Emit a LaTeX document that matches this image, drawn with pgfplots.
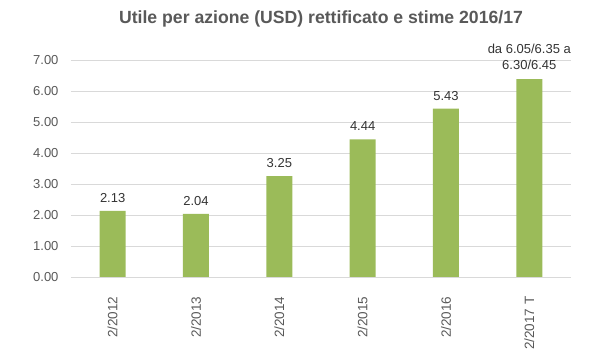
\documentclass[border=0pt]{standalone}
\usepackage{pgfplots}
\pgfplotsset{compat=1.18}
\usepackage{fontspec}
\setmainfont{Liberation Sans}
\definecolor{bargreen}{HTML}{9BBB59}
\definecolor{txtgray}{HTML}{595959}
\definecolor{gridgray}{HTML}{D9D9D9}
\begin{document}
\begin{tikzpicture}[x=1pt,y=1pt]
\useasboundingbox (0,0) rectangle (598,363);
\begin{axis}[
  at={(71pt,86pt)}, anchor=south west,
  scale only axis, width=500pt, height=217pt,
  xmin=-0.5, xmax=5.5, ymin=0, ymax=7,
  ytick={0,1,...,7},
  xtick=data,
  xticklabels={2/2012,2/2013,2/2014,2/2015,2/2016,2/2017 T},
  x tick label style={rotate=90, anchor=east, font=\fontsize{13.5}{15}\selectfont, text=txtgray},
  y tick label style={font=\fontsize{13}{15}\selectfont, text=txtgray},
  /pgf/number format/assume math mode=true,
  yticklabel={\pgfmathprintnumber[fixed,fixed zerofill,precision=2]{\tick}},
  ymajorgrids, grid style={gridgray, line width=0.8pt},
  axis line style={draw=none},
  major tick length=0pt,
  xticklabel shift=16pt,
  yticklabel shift=9pt,
  ybar, bar width=26pt,
  title={\bfseries Utile per azione (USD) rettificato e stime 2016/17},
  title style={font=\fontsize{18}{20}\selectfont, text=txtgray, at={(0.5,1)}, anchor=south, yshift=23pt, scale=0.98},
  clip=false,
]
\addplot[fill=bargreen, draw=none,
  nodes near coords, point meta=explicit symbolic,
  every node near coord/.append style={font=\fontsize{13}{15}\selectfont, text=black!80, align=center, yshift=5pt}]
  coordinates {(0,2.13)[2.13] (1,2.04)[2.04] (2,3.25)[3.25] (3,4.44)[4.44] (4,5.43)[5.43] (5,6.38)[]};
\node[font=\fontsize{13}{16}\selectfont, text=black!80, align=center, anchor=south, yshift=6pt] at (axis cs:5,6.38) {da 6.05/6.35 a\\6.30/6.45};
\end{axis}
\end{tikzpicture}
\end{document}
